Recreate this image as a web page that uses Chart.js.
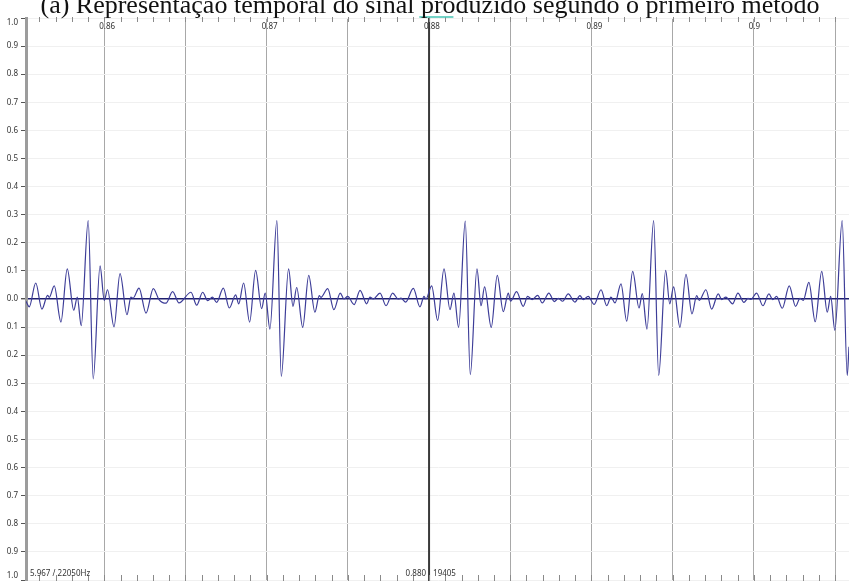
<!DOCTYPE html>
<html lang="pt">
<head>
  <meta charset="UTF-8" />
  <title>Representação temporal do sinal</title>
  <script src="https://cdn.jsdelivr.net/npm/chart.js"></script>
  <style>
    body {
      margin: 0;
      background: #fff;
    }
    #wave {
      display: block;
    }
  </style>
</head>
<body>
  <canvas id="wave" width="849" height="581"></canvas>

  <script>
    // Signal peaks and troughs (time in seconds, amplitude)
    const sampleTimes = [
      0.85518, 0.85538, 0.85578, 0.85616, 0.85651, 0.85661, 0.85692, 0.85733, 0.85772, 0.85812,
      0.85834, 0.85858, 0.85901, 0.85932, 0.85974, 0.86000, 0.86020, 0.86060, 0.86097, 0.86140,
      0.86164, 0.86177, 0.86214, 0.86257, 0.86302, 0.86337, 0.86380, 0.86421, 0.86460, 0.86534,
      0.86569, 0.86606, 0.86637, 0.86666, 0.86692, 0.86733, 0.86770, 0.86809, 0.86828, 0.86858,
      0.86895, 0.86932, 0.86969, 0.86991, 0.87020, 0.87063, 0.87090, 0.87135, 0.87162, 0.87185,
      0.87222, 0.87259, 0.87297, 0.87324, 0.87334, 0.87376, 0.87414, 0.87453, 0.87476, 0.87499,
      0.87539, 0.87575, 0.87616, 0.87636, 0.87656, 0.87698, 0.87735, 0.87776, 0.87809, 0.87827,
      0.87856, 0.87903, 0.87944, 0.87969, 0.87981, 0.88016, 0.88053, 0.88092, 0.88129, 0.88153,
      0.88182, 0.88223, 0.88254, 0.88295, 0.88320, 0.88342, 0.88383, 0.88420, 0.88457, 0.88488,
      0.88502, 0.88539, 0.88580, 0.88607, 0.88635, 0.88669, 0.88697, 0.88738, 0.88771, 0.88796,
      0.88823, 0.88857, 0.88898, 0.88929, 0.88950, 0.88980, 0.89017, 0.89059, 0.89094, 0.89120,
      0.89145, 0.89182, 0.89217, 0.89254, 0.89293, 0.89313, 0.89342, 0.89383, 0.89414, 0.89457,
      0.89482, 0.89506, 0.89545, 0.89582, 0.89619, 0.89648, 0.89664, 0.89705, 0.89740, 0.89781,
      0.89802, 0.89828, 0.89869, 0.89902, 0.89939, 0.89964, 0.89982, 0.90017, 0.90056, 0.90093,
      0.90116, 0.90140, 0.90175, 0.90218, 0.90257, 0.90284, 0.90304, 0.90339, 0.90378, 0.90418,
      0.90452, 0.90473, 0.90499, 0.90544, 0.90575, 0.90586
    ];
    const sampleValues = [
      -0.008, -0.028, 0.057, -0.036, 0.013, 0.006, 0.047, -0.082, 0.107, -0.040,
      0.007, -0.095, 0.279, -0.284, 0.118, -0.005, 0.033, -0.099, 0.090, -0.056,
      0.007, 0.003, 0.039, -0.050, 0.037, -0.002, -0.015, 0.026, -0.014, 0.024,
      -0.022, 0.024, -0.006, 0.007, -0.012, 0.039, -0.032, 0.015, -0.017, 0.057,
      -0.082, 0.102, -0.034, 0.021, -0.107, 0.279, -0.275, 0.107, -0.026, 0.041,
      -0.101, 0.084, -0.047, 0.012, 0.006, 0.037, -0.038, 0.021, 0.000, 0.009,
      -0.020, 0.031, -0.017, 0.007, 0.000, 0.021, -0.024, 0.021, 0.000, 0.003,
      -0.011, 0.038, -0.028, 0.009, 0.000, 0.047, -0.076, 0.107, -0.038, 0.021,
      -0.101, 0.277, -0.269, 0.107, -0.024, 0.043, -0.101, 0.084, -0.045, 0.021,
      -0.008, 0.026, -0.026, 0.009, -0.002, 0.013, -0.014, 0.021, -0.009, 0.002,
      -0.008, 0.018, -0.011, 0.012, -0.002, 0.009, -0.019, 0.033, -0.024, 0.007,
      -0.014, 0.054, -0.079, 0.098, -0.032, 0.019, -0.107, 0.279, -0.272, 0.102,
      -0.017, 0.043, -0.101, 0.088, -0.053, 0.012, -0.005, 0.033, -0.036, 0.018,
      -0.002, 0.007, -0.017, 0.021, -0.012, 0.002, -0.001, 0.021, -0.024, 0.018,
      -0.002, 0.009, -0.033, 0.047, -0.026, 0.002, -0.005, 0.059, -0.081, 0.098,
      -0.047, 0.009, -0.111, 0.279, -0.272, -0.170
    ];

    // Axis ticks
    const gridTimes = [0.86, 0.865, 0.87, 0.875, 0.88, 0.885, 0.89, 0.895, 0.9, 0.905];
    const labelTimes = [0.86, 0.87, 0.88, 0.89, 0.9];
    const timeLabels = ['0.86', '0.87', '0.88', '0.89', '0.9'];
    const ampTicks = [-1, -0.9, -0.8, -0.7, -0.6, -0.5, -0.4, -0.3, -0.2, -0.1, 0,
                      0.1, 0.2, 0.3, 0.4, 0.5, 0.6, 0.7, 0.8, 0.9, 1];
    const cursorTime = 0.88;
    const cursorText = ['0.880', '19405'];
    const rateText = '5.967 / 22050Hz';
    const titleText = '(a) Representação temporal do sinal produzido segundo o primeiro método';

    const points = sampleTimes.map((t, i) => ({ x: t, y: sampleValues[i] }));

    // Labels, small ticks, cursor and status text drawn on top of the scales
    const overlay = {
      id: 'overlay',
      beforeDatasetsDraw(chart) {
        const { ctx, chartArea, scales: { x } } = chart;
        const cx = x.getPixelForValue(cursorTime);
        ctx.save();
        ctx.strokeStyle = '#3a3a3a';
        ctx.lineWidth = 2;
        ctx.beginPath();
        ctx.moveTo(cx, chartArea.top);
        ctx.lineTo(cx, chart.height);
        ctx.stroke();

        // small ticks every millisecond, top and bottom
        ctx.strokeStyle = '#8a8a8a';
        ctx.lineWidth = 1;
        for (let ms = 856; ms <= 905; ms++) {
          const px = Math.round(x.getPixelForValue(ms / 1000)) + 0.5;
          ctx.beginPath();
          ctx.moveTo(px, chartArea.top - 1);
          ctx.lineTo(px, chartArea.top + 4);
          ctx.moveTo(px, chartArea.bottom - 5);
          ctx.lineTo(px, chartArea.bottom + 1);
          ctx.stroke();
        }

        ctx.strokeStyle = '#45c3b3';
        ctx.lineWidth = 1.5;
        ctx.beginPath();
        ctx.moveTo(x.getPixelForValue(0.8794), chartArea.top - 1);
        ctx.lineTo(x.getPixelForValue(0.8815), chartArea.top - 1);
        ctx.stroke();
        ctx.restore();
      },
      afterDraw(chart) {
        const { ctx, scales: { x, y } } = chart;
        ctx.save();
        ctx.fillStyle = '#333';
        ctx.font = '8px "Noto Sans", sans-serif';
        ctx.textBaseline = 'middle';

        ctx.textAlign = 'right';
        ampTicks.forEach(v => {
          const py = Math.min(Math.max(y.getPixelForValue(v), 23), 576);
          ctx.fillText(Math.abs(v).toFixed(1), 18, py);
        });

        ctx.textAlign = 'left';
        labelTimes.forEach((t, i) => {
          ctx.fillText(timeLabels[i], x.getPixelForValue(t) - 5, 27);
        });

        ctx.fillText(rateText, 30, 574);
        const cx = x.getPixelForValue(cursorTime);
        ctx.textAlign = 'right';
        ctx.fillText(cursorText[0], cx - 3, 574);
        ctx.textAlign = 'left';
        ctx.fillText(cursorText[1], cx + 4, 574);

        ctx.fillStyle = '#111';
        ctx.font = '26px "Liberation Serif", serif';
        ctx.textAlign = 'center';
        ctx.textBaseline = 'alphabetic';
        ctx.fillText(titleText, 430, 13);
        ctx.restore();
      }
    };

    new Chart(document.getElementById('wave'), {
      type: 'line',
      data: {
        datasets: [{
          data: points,
          borderColor: '#3d3d98',
          borderWidth: 1.2,
          pointRadius: 0,
          cubicInterpolationMode: 'monotone',
          fill: false
        }]
      },
      options: {
        responsive: false,
        animation: false,
        layout: { padding: { top: 18, bottom: 1, left: 0, right: 0 } },
        plugins: {
          legend: { display: false },
          tooltip: { enabled: false }
        },
        scales: {
          x: {
            type: 'linear',
            position: 'top',
            min: 0.85518,
            max: 0.90586,
            afterBuildTicks: s => { s.ticks = gridTimes.map(v => ({ value: v })); },
            ticks: { display: false },
            grid: { color: '#a8a8a8', lineWidth: 1, drawTicks: false },
            border: { display: false }
          },
          y: {
            min: -1,
            max: 1,
            afterBuildTicks: s => { s.ticks = ampTicks.map(v => ({ value: v })); },
            afterFit: s => { s.width = 26; },
            ticks: { display: false },
            grid: {
              color: c => Math.abs(c.tick.value) < 1e-9 ? '#1e1e6e' : '#f0f0f0',
              lineWidth: c => Math.abs(c.tick.value) < 1e-9 ? 1.4 : 1,
              drawTicks: true,
              tickLength: 5,
              tickColor: '#555'
            },
            border: { display: true, color: '#9c9c9c', width: 3 }
          }
        }
      },
      plugins: [overlay]
    });
  </script>
</body>
</html>
